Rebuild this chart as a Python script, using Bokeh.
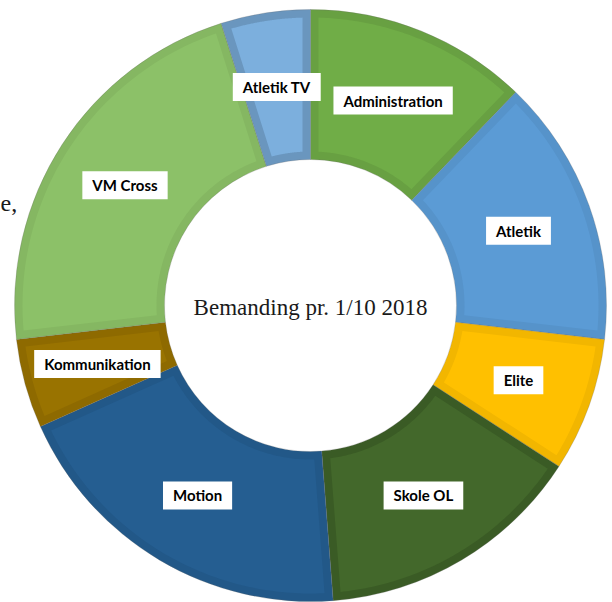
import numpy as np
from bokeh.plotting import figure
from bokeh.models import Range1d, ColumnDataSource
from bokeh.embed import file_html
from bokeh.resources import INLINE
from bokeh.core.properties import value

# ---- data ----
categories = ["Administration", "Atletik", "Elite", "Skole OL", "Motion",
              "Kommunikation", "VM Cross", "Atletik TV"]
staff = [5, 6, 3, 6, 8, 2, 9, 2]
colors = ["#70AD47", "#5B9BD5", "#FFC000", "#43682B", "#255E91",
          "#997300", "#8CC168", "#7CAFDD"]
border_shade = [0.93, 0.95, 0.95, 0.88, 0.94, 0.93, 0.95, 0.86]
center_title = "Bemanding pr. 1/10 2018"
fragment_text = "e,"

# ---- geometry (pixel-like data space) ----
W, H = 612, 602
cx, cy = 310, 297
R_out, R_in = 296, 146
inset = 8


def darker(hexc, f):
    h = hexc.lstrip("#")
    r, g, b = (int(h[i:i + 2], 16) for i in (0, 2, 4))
    return "#%02x%02x%02x" % (int(r * f), int(g * f), int(b * f))


total = float(sum(staff))
cum = np.concatenate([[0.0], np.cumsum(staff)])
th1 = cum[:-1] / total * 2 * np.pi  # clockwise from 12 o'clock
th2 = cum[1:] / total * 2 * np.pi

p = figure(width=W, height=H, output_backend="svg", toolbar_location=None,
           x_range=Range1d(0, W), y_range=Range1d(0, H),
           x_axis_location=None, y_axis_location=None, min_border=0)
p.grid.visible = False
p.outline_line_color = None
p.background_fill_color = "white"

border_cols = [darker(c, f) for c, f in zip(colors, border_shade)]
src = ColumnDataSource(dict(start=np.pi / 2 - th2, end=np.pi / 2 - th1,
                            color=border_cols))
p.annular_wedge(x=cx, y=cy, inner_radius=R_in, outer_radius=R_out,
                start_angle="start", end_angle="end", source=src,
                fill_color="color", line_color="#6a6a6a", line_width=0.5,
                line_alpha=0.5)

xs, ys = [], []
for a, b in zip(th1, th2):
    ro, ri = R_out - inset, R_in + inset
    ao = np.linspace(a + np.arcsin(inset / ro), b - np.arcsin(inset / ro), 80)
    ai = np.linspace(b - np.arcsin(inset / ri), a + np.arcsin(inset / ri), 80)
    px = np.concatenate([cx + ro * np.sin(ao), cx + ri * np.sin(ai)])
    py = np.concatenate([cy + ro * np.cos(ao), cy + ri * np.cos(ai)])
    xs.append(px.tolist())
    ys.append(py.tolist())
p.patches(xs=xs, ys=ys, fill_color=colors, line_color=None)

mid = (th1 + th2) / 2
rm = (R_out + R_in) / 2
lab = ColumnDataSource(dict(x=cx + rm * np.sin(mid), y=cy + rm * np.cos(mid),
                            text=categories))
p.text(x="x", y="y", text="text", source=lab, text_align="center",
       text_baseline="middle", text_font=value("Lato"), text_font_style="bold",
       text_font_size="15px", text_color="black",
       background_fill_color="white", padding=(10, 5))

p.text(x=[cx], y=[cy - 2], text=[center_title], text_align="center",
       text_baseline="middle", text_font=value("Liberation Serif"),
       text_font_size="23px", text_color="#1a1a1a")

p.text(x=[0], y=[602 - 203], text=[fragment_text], text_align="left",
       text_baseline="middle", text_font=value("Liberation Serif"),
       text_font_size="24px", text_color="#1a1a1a")

open("out.html", "w").write(file_html(p, INLINE))
